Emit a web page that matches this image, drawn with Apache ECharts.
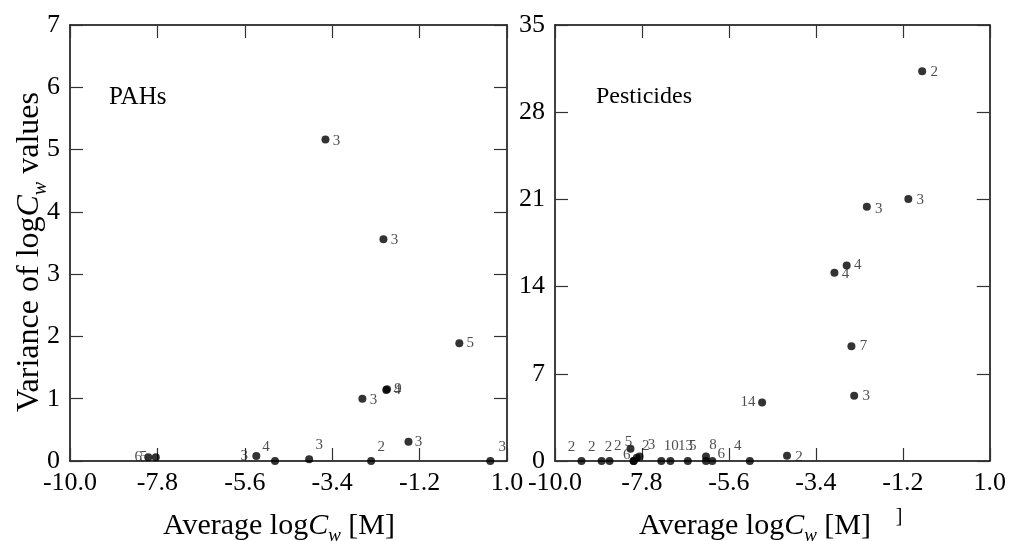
<!DOCTYPE html>
<html>
<head>
<meta charset="utf-8">
<script src="https://cdn.jsdelivr.net/npm/echarts@6/dist/echarts.min.js"></script>
<style>
  html, body { margin: 0; padding: 0; background: #fff; }
  #chart { width: 1009px; height: 541px; }
</style>
</head>
<body>
<div id="chart"></div>
<script>
// ---- PAHs: average logCw [M], variance of logCw, number of values ----
const pahAvg = [-8.03, -7.84, -5.31, -4.84, -3.98, -2.42, -1.48, 0.58, -3.57, -2.11, -0.20, -2.04, -2.02, -2.64];
const pahVar = [0.06, 0.06, 0.08, 0.00, 0.03, 0.00, 0.31, 0.00, 5.16, 3.56, 1.89, 1.14, 1.15, 1.00];
const pahN   = ['6', '5', '3', '4', '3', '2', '3', '3', '3', '3', '5', '4', '9', '3'];

// ---- Pesticides: average logCw [M], variance of logCw, number of values ----
const pestAvg = [-9.33, -8.82, -8.62, -8.09, -8.01, -8.01, -7.93, -7.86, -7.31, -7.08, -6.64, -6.18, -6.18, -6.02, -5.07, -4.13,
                 -0.71, -1.06, -2.11, -2.62, -2.93, -2.50, -2.43, -4.76];
const pestVar = [0.00, 0.00, 0.00, 0.98, 0.00, 0.00, 0.26, 0.37, 0.00, 0.00, 0.00, 0.37, 0.00, 0.00, 0.00, 0.42,
                 31.29, 21.04, 20.40, 15.70, 15.11, 9.21, 5.23, 4.70];
const pestN   = ['2', '2', '2', '5', '6', '2', '2', '3', '10', '13', '5', '8', '', '6', '4', '2',
                 '2', '3', '3', '4', '4', '7', '3', '14'];

// ---- axis ticks ----
const xTicks = [-10.0, -7.8, -5.6, -3.4, -1.2, 1.0];
const pahYTicks = [0, 1, 2, 3, 4, 5, 6, 7];
const pestYTicks = [0, 7, 14, 21, 28, 35];

// label nudges (px, relative to the dot centre) so the counts sit clear of each other
const pahNudge = [[-10, 0], [-12, 0], [-12, 0], [-9, -14], [10, -14], [10, -14], [10, 0], [12, -14],
                  [11, 1], [11, 1], [11, 0], [11, 0], [11, 0], [11, 1]];
const pestNudge = [[-10, -14], [-10, -14], [-1, -14], [-2, -7], [-7, -6], [-16, -15], [9, -12], [12, -11],
                   [10, -15], [15, -15], [5, -15], [7, -11], [0, 0], [9, -7], [-12, -15], [12, 1],
                   [12, 1], [12, 1], [12, 2], [11, 0], [11, 1], [12, 0], [12, 0], [-14, 0]];

const SERIF = '"Liberation Serif", "Times New Roman", serif';
const INK = '#000';

function points(xs, ys, ns, nudges) {
  return xs.map((x, i) => ({
    value: [x, ys[i]],
    label: { formatter: ns[i], offset: nudges[i] }
  }));
}

function xAxisPair(gridIndex) {
  const base = {
    gridIndex, type: 'value',
    min: xTicks[0], max: xTicks[xTicks.length - 1], interval: xTicks[1] - xTicks[0],
    axisLine: { show: true, onZero: false, lineStyle: { color: INK, width: 1.5 } },
    axisTick: { show: true, inside: true, length: 13, lineStyle: { color: '#333', width: 1.2 } },
    splitLine: { show: false }
  };
  return [
    Object.assign({}, base, {
      position: 'bottom',
      axisLabel: { show: true, margin: 9, color: INK, fontFamily: SERIF, fontSize: 26,
                   showMinLabel: true, showMaxLabel: true,
                   formatter: v => v.toFixed(1) }
    }),
    Object.assign({}, base, { position: 'top', axisLabel: { show: false } })
  ];
}

function yAxisPair(gridIndex, ticks) {
  const base = {
    gridIndex, type: 'value',
    min: ticks[0], max: ticks[ticks.length - 1], interval: ticks[1] - ticks[0],
    axisLine: { show: true, onZero: false, lineStyle: { color: INK, width: 1.5 } },
    axisTick: { show: true, inside: true, length: 13, lineStyle: { color: '#333', width: 1.2 } },
    splitLine: { show: false }
  };
  return [
    Object.assign({}, base, {
      position: 'left',
      axisLabel: { show: true, margin: 10, color: INK, fontFamily: SERIF, fontSize: 26,
                   showMinLabel: true, showMaxLabel: true }
    }),
    Object.assign({}, base, { position: 'right', axisLabel: { show: false } })
  ];
}

const dotSeries = (name, xi, yi, data) => ({
  name, type: 'scatter', xAxisIndex: xi, yAxisIndex: yi,
  symbol: 'circle', symbolSize: 8,
  itemStyle: { color: INK },
  label: { show: true, position: 'inside', color: '#222', fontFamily: SERIF, fontSize: 15 },
  data
});

const richFor = size => ({
  i: { fontStyle: 'italic', fontFamily: SERIF, fontSize: size, fill: INK },
  s: { fontStyle: 'italic', fontFamily: SERIF, fontSize: Math.round(size * 0.63),
       padding: [Math.round(size * 0.66), 0, 0, 0], fill: INK }
});

const option = {
  animation: false,
  backgroundColor: '#fff',
  grid: [
    { left: 70, top: 25, width: 437, height: 436 },
    { left: 555, top: 25, width: 437, height: 436 }
  ],
  xAxis: [...xAxisPair(0), ...xAxisPair(1)],
  yAxis: [...yAxisPair(0, pahYTicks), ...yAxisPair(1, pestYTicks)],
  series: [
    dotSeries('PAHs', 0, 0, points(pahAvg, pahVar, pahN, pahNudge)),
    dotSeries('Pesticides', 2, 2, points(pestAvg, pestVar, pestN, pestNudge))
  ],
  graphic: [
    { type: 'text', x: 30, y: 252, rotation: Math.PI / 2,
      style: { text: 'Variance of log{i|C}{s|w} values', rich: richFor(32), fill: INK,
               fontFamily: SERIF, fontSize: 32, align: 'center', verticalAlign: 'middle' } },
    { type: 'text', x: 279, y: 526,
      style: { text: 'Average log{i|C}{s|w} [M]', rich: richFor(30), fill: INK,
               fontFamily: SERIF, fontSize: 30, align: 'center', verticalAlign: 'middle' } },
    { type: 'text', x: 755, y: 526,
      style: { text: 'Average log{i|C}{s|w} [M]', rich: richFor(30), fill: INK,
               fontFamily: SERIF, fontSize: 30, align: 'center', verticalAlign: 'middle' } },
    { type: 'text', x: 899, y: 517,
      style: { text: ']', fill: INK, fontFamily: SERIF, fontSize: 20, align: 'center', verticalAlign: 'middle' } },
    { type: 'text', x: 109, y: 97,
      style: { text: 'PAHs', fill: INK, fontFamily: SERIF, fontSize: 25, align: 'left', verticalAlign: 'middle' } },
    { type: 'text', x: 596, y: 97,
      style: { text: 'Pesticides', fill: INK, fontFamily: SERIF, fontSize: 24, align: 'left', verticalAlign: 'middle' } }
  ]
};

const chart = echarts.init(document.getElementById('chart'), null, { renderer: 'canvas' });
chart.setOption(option);
</script>
</body>
</html>
